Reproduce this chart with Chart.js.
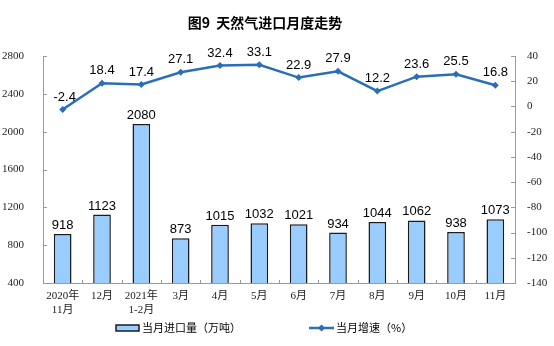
<!DOCTYPE html>
<html>
<head>
<meta charset="utf-8">
<script src="https://cdn.jsdelivr.net/npm/chart.js@4.4.1/dist/chart.umd.min.js"></script>
<style>
html,body{margin:0;padding:0;background:#fff;}
#wrap{width:554px;height:346px;position:relative;}
</style>
</head>
<body>
<div id="wrap"><canvas id="c" width="554" height="346"></canvas></div>
<script>
const categories = [['2020年','11月'],'12月',['2021年','1-2月'],'3月','4月','5月','6月','7月','8月','9月','10月','11月'];
const importVolume = [918,1123,2080,873,1015,1032,1021,934,1044,1062,938,1073];
const growthRate = [-2.4,18.4,17.4,27.1,32.4,33.1,22.9,27.9,12.2,23.6,25.5,16.8];
const leftTicks = [400,800,1200,1600,2000,2400,2800];
const rightTicks = [-140,-120,-100,-80,-60,-40,-20,0,20,40];
const titleText = '图9  天然气进口月度走势';
const barLabel = '当月进口量（万吨）';
const lineLabel = '当月增速（%）';

const BAR_FILL = '#99CCFF';
const BAR_EDGE = '#1b1b1b';
const LINE_COLOR = '#2a6ebb';
const AXIS = '#9a9a9a';
const SERIF = '"Liberation Serif","Noto Sans CJK SC",serif';
const SANS = '"Liberation Sans",Arial,sans-serif';

const extras = {
  id:'extras',
  afterDatasetsDraw(chart){
    const ctx = chart.ctx;
    const area = chart.chartArea;
    ctx.save();
    ctx.strokeStyle = AXIS; ctx.lineWidth = 1;
    const y = chart.scales.y, y2 = chart.scales.y2;
    leftTicks.forEach(v=>{const py=Math.round(y.getPixelForValue(v))+0.5;ctx.beginPath();ctx.moveTo(area.left,py);ctx.lineTo(area.left+4,py);ctx.stroke();});
    rightTicks.forEach(v=>{const py=Math.round(y2.getPixelForValue(v))+0.5;ctx.beginPath();ctx.moveTo(area.right-4,py);ctx.lineTo(area.right,py);ctx.stroke();});
    const n = categories.length;
    for(let i=0;i<=n;i++){
      const px = Math.round(area.left + (area.right-area.left)*i/n)+0.5;
      ctx.beginPath();ctx.moveTo(px,area.bottom);ctx.lineTo(px,area.bottom-3);ctx.stroke();
    }
    ctx.fillStyle = '#000';
    ctx.font = '13px '+SANS;
    ctx.textAlign = 'center';
    ctx.textBaseline = 'bottom';
    chart.getDatasetMeta(0).data.forEach((el,i)=>{
      ctx.fillText(String(importVolume[i]), el.x, el.y-2);
    });
    chart.getDatasetMeta(1).data.forEach((el,i)=>{
      ctx.fillText(growthRate[i].toFixed(1), el.x+(i===0?2:0), el.y-6);
    });
    ctx.font = '600 14px "Noto Sans CJK SC",sans-serif';
    ctx.textBaseline = 'middle';
    ctx.fillText(titleText, 265, 23);
    ctx.font = '11px "Noto Sans CJK SC",sans-serif';
    ctx.textAlign = 'left';
    const ly = 328;
    ctx.fillStyle = BAR_FILL; ctx.fillRect(116,325,23,6);
    ctx.strokeStyle = BAR_EDGE; ctx.lineWidth = 1.5; ctx.strokeRect(116,325,23,6);
    ctx.fillStyle = '#000'; ctx.fillText(barLabel, 142, ly);
    ctx.strokeStyle = LINE_COLOR; ctx.lineWidth = 2.5;
    ctx.beginPath(); ctx.moveTo(309,ly); ctx.lineTo(334,ly); ctx.stroke();
    ctx.fillStyle = LINE_COLOR;
    ctx.beginPath(); ctx.moveTo(321.5,ly-3.5); ctx.lineTo(325,ly); ctx.lineTo(321.5,ly+3.5); ctx.lineTo(318,ly); ctx.closePath(); ctx.fill();
    ctx.fillStyle = '#000'; ctx.fillText(lineLabel, 336, ly);
    ctx.restore();
  }
};

new Chart(document.getElementById('c'), {
  data:{
    labels: categories,
    datasets:[
      {type:'bar', label:barLabel, data:importVolume, yAxisID:'y', backgroundColor:BAR_FILL, borderColor:BAR_EDGE, borderWidth:1.5, categoryPercentage:1, barPercentage:0.45, order:2},
      {type:'line', label:lineLabel, data:growthRate, yAxisID:'y2', borderColor:LINE_COLOR, backgroundColor:LINE_COLOR, borderWidth:2.5, pointStyle:'rectRot', pointRadius:3.5, pointBorderWidth:0, tension:0, order:1}
    ]
  },
  options:{
    responsive:false, animation:false, devicePixelRatio:1,
    layout:{padding:{top:56,bottom:28,left:0,right:0}},
    plugins:{legend:{display:false}, title:{display:false}, tooltip:{enabled:false}},
    scales:{
      x:{
        offset:true,
        grid:{display:false, drawTicks:false},
        border:{display:true,color:AXIS},
        ticks:{color:'#222', padding:6, maxRotation:0, autoSkip:false, font:{family:SERIF,size:11,lineHeight:1.27}},
        afterFit(s){s.height=35;}
      },
      y:{
        position:'left', min:400, max:2800,
        afterBuildTicks(s){s.ticks = leftTicks.map(v=>({value:v}));},
        grid:{display:false, drawTicks:false},
        border:{display:true,color:AXIS},
        ticks:{color:'#222', padding:19, font:{family:SERIF,size:11}, callback:(v)=>String(v)},
        afterFit(s){s.width=43;}
      },
      y2:{
        position:'right', min:-140, max:40,
        afterBuildTicks(s){s.ticks = rightTicks.map(v=>({value:v}));},
        grid:{display:false, drawTicks:false},
        border:{display:true,color:AXIS},
        ticks:{color:'#222', padding:12, font:{family:SERIF,size:11}, callback:(v)=>String(v)},
        afterFit(s){s.width=39;}
      }
    }
  },
  plugins:[extras]
});
</script>
</body>
</html>
